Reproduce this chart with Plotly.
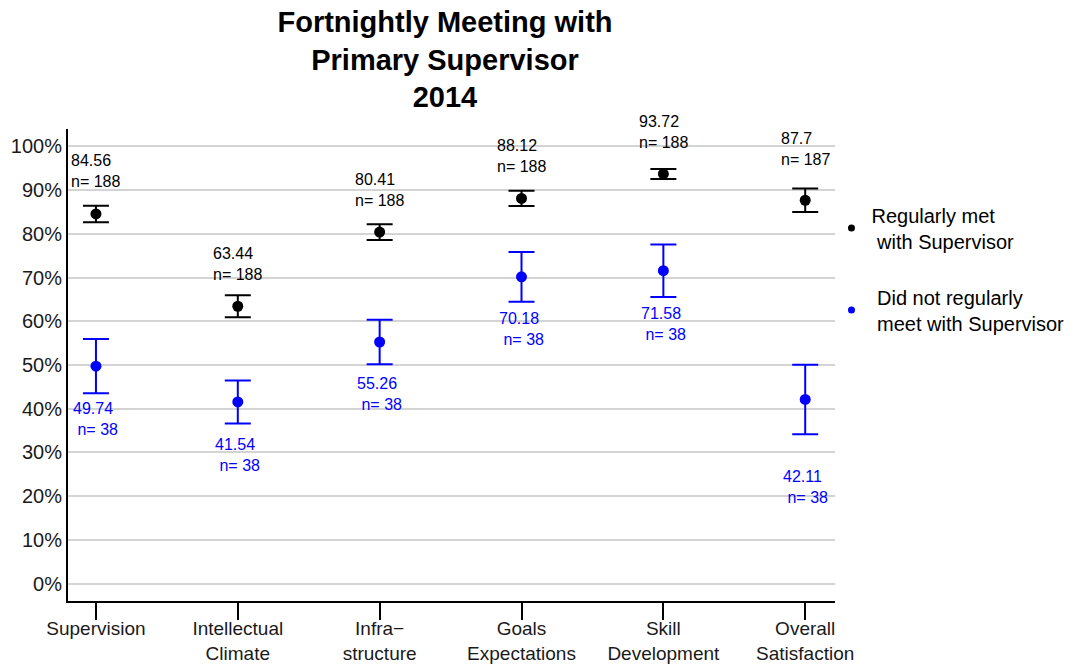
import plotly.graph_objects as go

categories = ["Supervision", "Intellectual<br>Climate", "Infra\u2212<br>structure",
              "Goals<br>Expectations", "Skill<br>Development", "Overall<br>Satisfaction"]
cat_keys = ["Supervision", "Intellectual Climate", "Infrastructure",
            "Goals Expectations", "Skill Development", "Overall Satisfaction"]

met_values = [84.56, 63.44, 80.41, 88.12, 93.72, 87.70]
met_err = [1.9, 2.5, 1.8, 1.75, 1.15, 2.7]
met_n = [188, 188, 188, 188, 188, 187]

notmet_values = [49.74, 41.54, 55.26, 70.18, 71.58, 42.11]
notmet_err = [6.2, 4.9, 5.1, 5.7, 6.0, 7.95]
notmet_n = [38, 38, 38, 38, 38, 38]

met_label_offset = [9.8, 9.7, 9.7, 9.7, 9.6, 11.7]
notmet_label_offset = [-12.0, -12.1, -12.0, -12.0, -12.1, -20.0]

y_ticks = [0, 10, 20, 30, 40, 50, 60, 70, 80, 90, 100]

FONT = "Arial, Liberation Sans, sans-serif"
BLACK = "#000000"
BLUE = "#0000FF"

fig = go.Figure()

fig.add_trace(go.Scatter(
    x=cat_keys, y=notmet_values, mode="markers", showlegend=False,
    marker=dict(color=BLUE, size=11),
    error_y=dict(type="data", array=notmet_err, color=BLUE, thickness=2, width=13),
))
fig.add_trace(go.Scatter(
    x=cat_keys, y=met_values, mode="markers", showlegend=False,
    marker=dict(color=BLACK, size=11),
    error_y=dict(type="data", array=met_err, color=BLACK, thickness=2, width=13),
))

# legend-only entries
fig.add_trace(go.Scatter(
    x=[None], y=[None], mode="markers", name="Regularly met<br>\u00a0with Supervisor",
    marker=dict(color=BLACK, size=7), legendgroup="a",
))
fig.add_trace(go.Scatter(
    x=[None], y=[None], mode="markers", name="\u00a0Did not regularly<br>\u00a0meet with Supervisor",
    marker=dict(color=BLUE, size=7), legendgroup="b",
))

annotations = []
for k, v, n, off in zip(cat_keys, met_values, met_n, met_label_offset):
    annotations.append(dict(
        x=k, y=v + off, xref="x", yref="y", text=f"{v:g}<br>n= {n}",
        showarrow=False, align="left", xanchor="center", yanchor="middle",
        font=dict(family=FONT, size=16, color=BLACK),
    ))
for k, v, n, off in zip(cat_keys, notmet_values, notmet_n, notmet_label_offset):
    annotations.append(dict(
        x=k, y=v + off, xref="x", yref="y", text=f"{v:g}<br>\u00a0n= {n}",
        showarrow=False, align="left", xanchor="center", yanchor="middle",
        font=dict(family=FONT, size=16, color=BLUE),
    ))

fig.update_layout(
    width=1086, height=664,
    margin=dict(l=68, r=251, t=129, b=63, autoexpand=False),
    paper_bgcolor="white", plot_bgcolor="white",
    font=dict(family=FONT, color="#1a1a1a"),
    title=dict(
        text="<b>Fortnightly Meeting with<br>Primary Supervisor<br>2014</b>",
        x=445 / 1086, xanchor="center", y=1 - 32 / 664, yanchor="top",
        font=dict(family=FONT, size=29, color=BLACK),
    ),
    annotations=annotations,
    legend=dict(
        x=0.9954, xanchor="left", y=0.859, yanchor="top",
        font=dict(family=FONT, size=20, color=BLACK),
        bgcolor="rgba(0,0,0,0)", borderwidth=0, tracegroupgap=27,
        itemwidth=30,
    ),
)

fig.update_xaxes(
    type="category", categoryorder="array", categoryarray=cat_keys,
    tickmode="array", tickvals=cat_keys, ticktext=categories,
    range=[-0.197, 5.21], automargin=False,
    showline=True, linecolor=BLACK, linewidth=2,
    ticks="outside", ticklen=17, tickwidth=2, tickcolor=BLACK,
    showgrid=False, zeroline=False, ticklabelstandoff=-8,
    tickfont=dict(family=FONT, size=19, color="#1a1a1a"),
)
fig.update_yaxes(
    range=[-4.0, 104.0], automargin=False,
    tickmode="array", tickvals=y_ticks, ticktext=[f"{t}%" for t in y_ticks],
    showline=True, linecolor=BLACK, linewidth=2,
    ticks="", showgrid=True, gridcolor="#d4d4d4", gridwidth=1.5, zeroline=False,
    tickfont=dict(family=FONT, size=20, color="#1a1a1a"),
)

fig.write_html(
    "out.html",
    config={"displayModeBar": False},
    post_script="document.body.style.margin='0';document.body.style.padding='0';",
)
